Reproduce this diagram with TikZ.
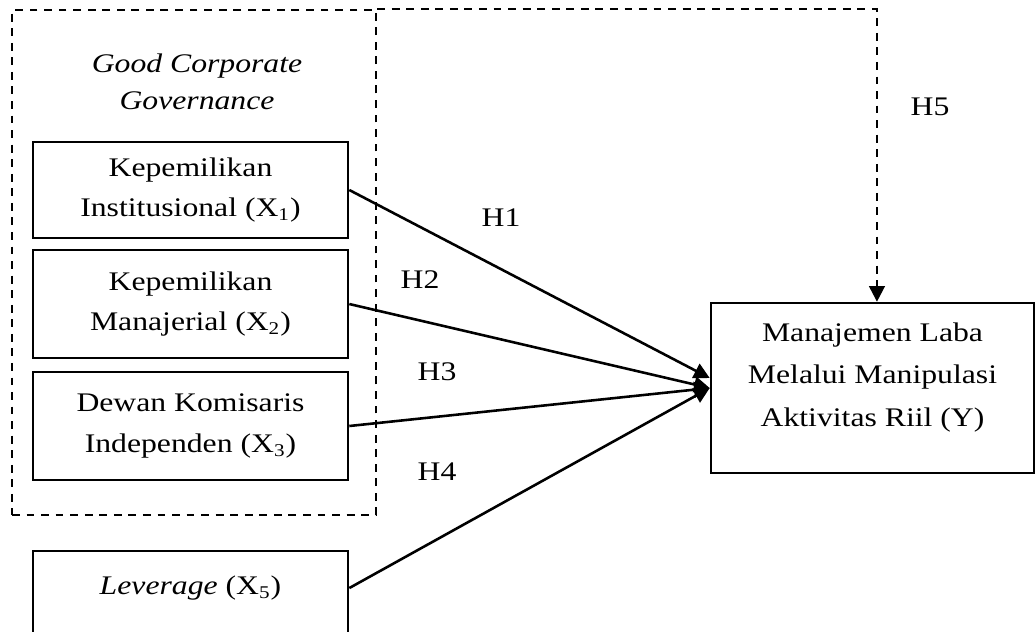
\documentclass[tikz,border=0pt]{standalone}
\usepackage{fontspec}
\setmainfont{Liberation Serif}[FakeStretch=1.18]
\usetikzlibrary{arrows.meta}

\begin{document}
\begin{tikzpicture}[
  line width=1.15pt,  box/.style={draw,align=center,inner sep=0pt,minimum width=4.946cm,minimum height=1.696cm,font=\fontsize{12}{18}\selectfont},  hlabel/.style={font=\fontsize{12}{18}\selectfont},  arr/.style={-{Triangle[length=7pt,width=7pt]}},  dashline/.style={line width=1pt,dash pattern=on 3.5pt off 3pt}
]
  \useasboundingbox (0,0) rectangle (16.265,-9.907);
  \node[draw,dashline,minimum width=5.715cm,minimum height=7.929cm] (gcg) at (3.046,-4.121) {};
  \node[align=center,font=\itshape\fontsize{12}{16.5}\selectfont] (gcgtitle) at (3.093,-1.280) {Good Corporate\\Governance};
  \node[box,minimum height=1.507cm] (x1) at (2.991,-2.983) {Kepemilikan\\Institusional (X\textsubscript{1})};
  \node[box] (x2) at (2.991,-4.773) {Kepemilikan\\Manajerial (X\textsubscript{2})};
  \node[box] (x3) at (2.991,-6.688) {Dewan Komisaris\\Independen (X\textsubscript{3})};
  \node[box] (x5) at (2.991,-9.499) {\textit{Leverage} (X\textsubscript{5})\\\mbox{}};
  \node[box,minimum width=5.071cm,minimum height=2.669cm,text depth=12pt,font=\fontsize{12}{19}\selectfont] (y) at (13.698,-6.092) {Manajemen Laba\\Melalui Manipulasi\\Aktivitas Riil (Y)};
  \node[hlabel] (h1) at (7.866,-3.423) {H1};
  \node[hlabel] (h2) at (6.594,-4.396) {H2};
  \node[hlabel] (h3) at (6.861,-5.840) {H3};
  \node[hlabel] (h4) at (6.861,-7.410) {H4};
  \node[hlabel] (h5) at (14.601,-1.680) {H5};
  \draw[arr] (x1.east) -- ([yshift=0.157cm]y.west);
  \draw[arr] (x2.east) -- (y.west);
  \draw[arr] (x3.east) -- (y.west);
  \draw[arr] ([yshift=0.267cm]x5.east) -- (y.west);
  \draw[dashline,arr] (gcg.north east) -| ([xshift=0.07cm]y.north);
\end{tikzpicture}
\end{document}
